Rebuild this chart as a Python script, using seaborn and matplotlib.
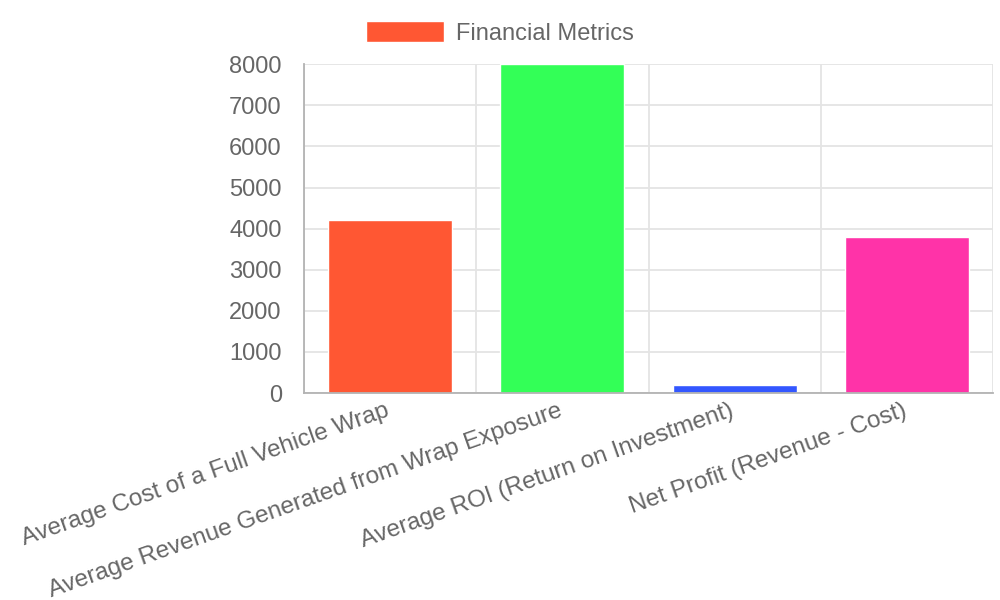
import numpy as np
import pandas as pd
import matplotlib
matplotlib.use('Agg')
import matplotlib.pyplot as plt
import matplotlib.transforms as mtransforms
import seaborn as sns
from matplotlib.patches import Patch

categories = ['Average Cost of a Full Vehicle Wrap',
              'Average Revenue Generated from Wrap Exposure',
              'Average ROI (Return on Investment)',
              'Net Profit (Revenue - Cost)']
values = [4200, 8000, 190, 3800]
colors = ['#FF5733', '#33FF57', '#3357FF', '#FF33A8']
yticks = [0, 1000, 2000, 3000, 4000, 5000, 6000, 7000, 8000]

df = pd.DataFrame({'metric': categories, 'value': values})

sns.set_style('white')
plt.rcParams['font.family'] = ['Liberation Sans', 'DejaVu Sans']

fig = plt.figure(figsize=(10, 6), dpi=100)
ax = fig.add_axes([0.304, 0.345, 0.689, 0.548])

sns.barplot(data=df, x='metric', y='value', hue='metric', palette=colors,
            width=0.72, legend=False, ax=ax, saturation=1)

grid_c = '#e4e4e4'
axis_c = '#b3b3b3'
txt_c = '#666666'

ax.set_xlim(-0.5, 3.5)
ax.set_ylim(0, 8000)
ax.set_yticks(yticks)
ax.set_yticklabels([str(v) for v in yticks])
ax.set_xlabel('')
ax.set_ylabel('')

# grid on category boundaries, like the original
ax.set_xticks(np.arange(-0.5, 4, 1), minor=True)
ax.grid(True, axis='y', color=grid_c, lw=1.3)
ax.grid(True, axis='x', which='minor', color=grid_c, lw=1.3)
ax.set_axisbelow(True)
for side in ['top', 'right']:
    ax.spines[side].set_visible(False)
ax.spines['left'].set_color(axis_c)
ax.spines['bottom'].set_color(axis_c)
ax.spines['left'].set_linewidth(1.3)
ax.spines['bottom'].set_linewidth(1.3)

ax.tick_params(axis='y', length=14, width=1.3, color=grid_c, pad=2,
               labelsize=17, labelcolor=txt_c)
ax.tick_params(axis='x', which='major', length=0, pad=5,
               labelsize=17.5, labelcolor=txt_c)
ax.tick_params(axis='x', which='minor', length=13, width=1.3, color=grid_c)
shift = mtransforms.ScaledTranslation(-5 / 100, 0, fig.dpi_scale_trans)
for lbl in ax.get_xticklabels():
    lbl.set_rotation(19.5)
    lbl.set_ha('right')
    lbl.set_rotation_mode('anchor')
    lbl.set_transform(lbl.get_transform() + shift)

handles = [Patch(facecolor=colors[0], label='Financial Metrics')]
fig.legend(handles=handles, loc='upper center', bbox_to_anchor=(0.5, 1.0),
           frameon=False, fontsize=17, labelcolor=txt_c,
           handlelength=3.3, handleheight=0.95, handletextpad=0.5)

fig.savefig('out.png', dpi=100)
